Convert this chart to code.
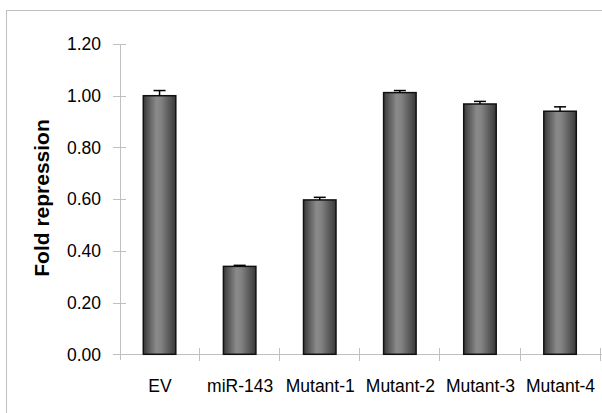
<!DOCTYPE html>
<html>
<head>
<meta charset="utf-8">
<script src="https://cdn.jsdelivr.net/npm/d3@7"></script>
<style>
  body { margin: 0; background: #fff; }
  text { font-family: 'Liberation Sans', Arial, sans-serif; }
</style>
</head>
<body>
<div id="chart"></div>
<script>
const categories = ['EV', 'miR-143', 'Mutant-1', 'Mutant-2', 'Mutant-3', 'Mutant-4']
const values = [1.0, 0.34, 0.597, 1.012, 0.968, 0.94]
const errors = [0.02, 0.004, 0.01, 0.008, 0.01, 0.017]
const yTicks = [0, 0.2, 0.4, 0.6, 0.8, 1.0, 1.2]

const width = 602
const height = 413

const svg = d3
  .select('#chart')
  .append('svg')
  .attr('width', width)
  .attr('height', height)

// outer frame (right/bottom edges fall outside the picture)
svg
  .append('rect')
  .attr('x', 6.5)
  .attr('y', 10.5)
  .attr('width', 620)
  .attr('height', 420)
  .attr('fill', 'none')
  .attr('stroke', '#c0c0c0')

const x = d3
  .scaleBand()
  .domain(categories)
  .range([120, 600.6])

const y = d3
  .scaleLinear()
  .domain([0, 1.2])
  .range([354.3, 44])

const grad = svg
  .append('defs')
  .append('linearGradient')
  .attr('id', 'barGrad')
  .attr('x1', '0%')
  .attr('x2', '100%')
  .attr('y1', '0%')
  .attr('y2', '0%')

grad.append('stop').attr('offset', '0%').attr('stop-color', '#3a3a3a')
grad.append('stop').attr('offset', '40%').attr('stop-color', '#8a8a8a')
grad.append('stop').attr('offset', '55%').attr('stop-color', '#828282')
grad.append('stop').attr('offset', '100%').attr('stop-color', '#383838')

// y axis
const yAxis = svg.append('g')
yAxis
  .append('line')
  .attr('x1', 120.5)
  .attr('x2', 120.5)
  .attr('y1', y(1.2))
  .attr('y2', 360)
  .attr('stroke', '#c0c0c0')

yAxis
  .selectAll('.ytick')
  .data(yTicks)
  .enter()
  .append('line')
  .attr('x1', 113)
  .attr('x2', 126)
  .attr('y1', d => Math.round(y(d)) + 0.5)
  .attr('y2', d => Math.round(y(d)) + 0.5)
  .attr('stroke', '#c0c0c0')

yAxis
  .selectAll('text')
  .data(yTicks)
  .enter()
  .append('text')
  .text(d => d.toFixed(2))
  .attr('x', 101)
  .attr('y', d => y(d))
  .attr('dy', '0.36em')
  .attr('text-anchor', 'end')
  .attr('font-size', 17.5)
  .attr('fill', '#000')

// x axis
const xAxis = svg.append('g')
xAxis
  .append('line')
  .attr('x1', 113)
  .attr('x2', 602)
  .attr('y1', Math.round(y(0)) + 0.5)
  .attr('y2', Math.round(y(0)) + 0.5)
  .attr('stroke', '#c0c0c0')

xAxis
  .selectAll('.xtick')
  .data(categories.slice(1).concat(['end']))
  .enter()
  .append('line')
  .attr('x1', (d, i) => Math.round(x.range()[0] + x.step() * (i + 1)) - 0.5)
  .attr('x2', (d, i) => Math.round(x.range()[0] + x.step() * (i + 1)) - 0.5)
  .attr('y1', 348)
  .attr('y2', 361)
  .attr('stroke', '#c0c0c0')

xAxis
  .selectAll('text')
  .data(categories)
  .enter()
  .append('text')
  .text(d => d)
  .attr('x', d => x(d) + x.bandwidth() / 2)
  .attr('y', 391.5)
  .attr('text-anchor', 'middle')
  .attr('font-size', 17.5)
  .attr('fill', '#000')

// bars
const barW = 32.5
svg
  .selectAll('.bar')
  .data(categories)
  .enter()
  .append('rect')
  .attr('class', 'bar')
  .attr('x', d => x(d) + x.bandwidth() / 2 - barW / 2 - 0.5)
  .attr('y', (d, i) => y(values[i]))
  .attr('width', barW)
  .attr('height', (d, i) => y(0) - y(values[i]))
  .attr('fill', 'url(#barGrad)')
  .attr('stroke', '#111')
  .attr('stroke-width', 1.5)

// error bars (upper only)
const errG = svg.append('g').attr('stroke', '#000').attr('stroke-width', 1.5)
categories.forEach(function(c, i) {
  const cx = x(c) + x.bandwidth() / 2 - 0.5
  errG
    .append('line')
    .attr('x1', cx)
    .attr('x2', cx)
    .attr('y1', y(values[i]))
    .attr('y2', y(values[i] + errors[i]))
  errG
    .append('line')
    .attr('x1', cx - 6)
    .attr('x2', cx + 6)
    .attr('y1', y(values[i] + errors[i]))
    .attr('y2', y(values[i] + errors[i]))
})

// y title
svg
  .append('text')
  .text('Fold repression')
  .attr('transform', 'translate(49,198) rotate(-90)')
  .attr('text-anchor', 'middle')
  .attr('font-size', 21)
  .attr('font-weight', 'bold')
  .attr('fill', '#000')
</script>
</body>
</html>
